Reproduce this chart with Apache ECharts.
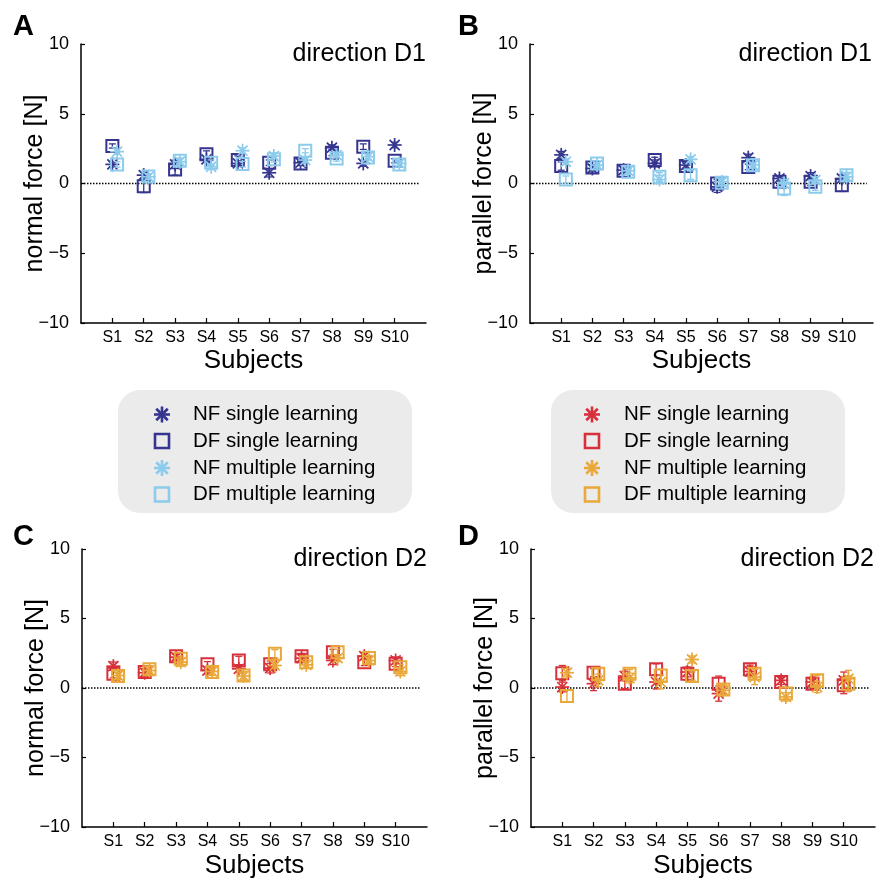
<!DOCTYPE html>
<html>
<head>
<meta charset="utf-8">
<script src="https://cdn.jsdelivr.net/npm/echarts@6/dist/echarts.min.js"></script>
<style>
  html, body { margin: 0; background: #fff; }
  #chart { width: 890px; height: 880px; }
</style>
</head>
<body>
<div id="chart"></div>
<script>
var FONT = 'Liberation Sans, Arial, sans-serif';
var subjects = ['S1', 'S2', 'S3', 'S4', 'S5', 'S6', 'S7', 'S8', 'S9', 'S10'];
var zeroLine = [[0, 0], [10.8, 0]];

// A: normal force, direction D1
var aNfSingle      = [1.37, 0.60, 1.37, 1.73, 1.44, 0.77, 1.49, 2.57, 1.44, 2.76];
var aNfSingleErr   = [0.20, 0.20, 0.30, 0.20, 0.20, 0.30, 0.20, 0.20, 0.20, 0.20];
var aDfSingle      = [2.69, -0.20, 1.00, 2.09, 1.68, 1.49, 1.44, 2.20, 2.64, 1.63];
var aDfSingleErr   = [0.15, 0.45, 0.40, 0.25, 0.30, 0.20, 0.15, 0.20, 0.20, 0.15];
var aNfMultiple    = [2.28, 0.48, 1.56, 1.20, 2.35, 1.97, 1.68, 2.04, 1.92, 1.44];
var aNfMultipleErr = [0.20, 0.20, 0.20, 0.20, 0.20, 0.20, 0.20, 0.20, 0.20, 0.20];
var aDfMultiple    = [1.37, 0.50, 1.63, 1.49, 1.39, 1.73, 2.35, 1.80, 1.87, 1.37];
var aDfMultipleErr = [0.20, 0.20, 0.20, 0.20, 0.20, 0.20, 0.15, 0.20, 0.20, 0.20];

// B: parallel force, direction D1
var bNfSingle      = [2.05, 1.08, 0.96, 1.44, 1.32, -0.24, 1.85, 0.36, 0.53, 0.36];
var bNfSingleErr   = [0.25, 0.25, 0.20, 0.25, 0.25, 0.40, 0.25, 0.20, 0.25, 0.25];
var bDfSingle      = [1.25, 1.15, 0.91, 1.68, 1.25, 0.00, 1.19, 0.12, 0.12, -0.12];
var bDfSingleErr   = [0.30, 0.20, 0.20, 0.20, 0.20, 0.30, 0.20, 0.25, 0.25, 0.45];
var bNfMultiple    = [1.56, 1.32, 0.91, 0.29, 1.73, 0.12, 1.32, 0.00, 0.24, 0.48];
var bNfMultipleErr = [0.20, 0.20, 0.20, 0.30, 0.20, 0.25, 0.20, 0.30, 0.25, 0.20];
var bDfMultiple    = [0.29, 1.44, 0.84, 0.48, 0.60, 0.05, 1.30, -0.36, -0.24, 0.60];
var bDfMultipleErr = [0.25, 0.20, 0.20, 0.30, 0.30, 0.25, 0.20, 0.50, 0.25, 0.20];

// C: normal force, direction D2
var cNfSingle      = [1.57, 1.10, 2.22, 1.26, 1.38, 1.43, 2.15, 1.98, 2.29, 1.98];
var cNfSingleErr   = [0.30, 0.30, 0.20, 0.25, 0.25, 0.35, 0.25, 0.30, 0.25, 0.25];
var cDfSingle      = [1.03, 1.15, 2.29, 1.70, 1.98, 1.70, 2.29, 2.58, 1.86, 1.74];
var cDfSingleErr   = [0.30, 0.25, 0.20, 0.20, 0.30, 0.25, 0.20, 0.20, 0.25, 0.20];
var cNfMultiple    = [0.90, 1.26, 1.86, 1.19, 0.86, 1.62, 1.67, 2.15, 1.98, 1.19];
var cNfMultipleErr = [0.25, 0.30, 0.30, 0.25, 0.30, 0.20, 0.25, 0.25, 0.25, 0.30];
var cDfMultiple    = [0.86, 1.34, 2.10, 1.15, 0.90, 2.46, 1.86, 2.58, 2.15, 1.50];
var cDfMultipleErr = [0.25, 0.25, 0.20, 0.25, 0.25, 0.30, 0.20, 0.20, 0.20, 0.20];

// D: parallel force, direction D2
var dNfSingle      = [0.07, 0.31, 0.86, 0.43, 1.15, -0.40, 1.19, 0.55, 0.43, 0.55];
var dNfSingleErr   = [0.35, 0.50, 0.35, 0.50, 0.35, 0.55, 0.35, 0.30, 0.35, 0.60];
var dDfSingle      = [1.07, 1.10, 0.31, 1.34, 1.03, 0.31, 1.34, 0.43, 0.31, 0.19];
var dDfSingleErr   = [0.55, 0.30, 0.35, 0.40, 0.45, 0.55, 0.30, 0.35, 0.30, 0.60];
var dNfMultiple    = [1.10, 0.55, 0.72, 0.43, 2.05, -0.17, 0.79, -0.64, 0.07, 0.67];
var dNfMultipleErr = [0.30, 0.45, 0.35, 0.50, 0.25, 0.35, 0.55, 0.30, 0.40, 0.60];
var dDfMultiple    = [-0.57, 1.03, 1.03, 0.90, 0.86, -0.10, 1.03, -0.40, 0.55, 0.31];
var dDfMultipleErr = [0.45, 0.35, 0.30, 0.45, 0.30, 0.35, 0.40, 0.45, 0.35, 0.55];

var legendNames = ['NF single learning', 'DF single learning', 'NF multiple learning', 'DF multiple learning'];
var blueColors = ['#35358f', '#35358f', '#8ccbeb', '#8ccbeb'];
var redColors = ['#d7303a', '#d7303a', '#e9a83a', '#e9a83a'];
var shapes = ['star', 'square', 'star', 'square'];
var offsets = [0, 0, 0.15, 0.15];

var panels = [
  { vals: [aNfSingle, aDfSingle, aNfMultiple, aDfMultiple], errs: [aNfSingleErr, aDfSingleErr, aNfMultipleErr, aDfMultipleErr], colors: blueColors, yName: 'normal force [N]' },
  { vals: [bNfSingle, bDfSingle, bNfMultiple, bDfMultiple], errs: [bNfSingleErr, bDfSingleErr, bNfMultipleErr, bDfMultipleErr], colors: blueColors, yName: 'parallel force [N]' },
  { vals: [cNfSingle, cDfSingle, cNfMultiple, cDfMultiple], errs: [cNfSingleErr, cDfSingleErr, cNfMultipleErr, cDfMultipleErr], colors: redColors, yName: 'normal force [N]' },
  { vals: [dNfSingle, dDfSingle, dNfMultiple, dDfMultiple], errs: [dNfSingleErr, dDfSingleErr, dNfMultipleErr, dDfMultipleErr], colors: redColors, yName: 'parallel force [N]' }
];

function starLines(cx, cy, r, color, w) {
  var d = r * 0.72;
  var st = { stroke: color, lineWidth: w };
  return [
    { type: 'line', shape: { x1: cx - r, y1: cy, x2: cx + r, y2: cy }, style: st },
    { type: 'line', shape: { x1: cx, y1: cy - r, x2: cx, y2: cy + r }, style: st },
    { type: 'line', shape: { x1: cx - d, y1: cy - d, x2: cx + d, y2: cy + d }, style: st },
    { type: 'line', shape: { x1: cx - d, y1: cy + d, x2: cx + d, y2: cy - d }, style: st }
  ];
}

function renderMark(shape, color) {
  return function (params, api) {
    var x = api.value(0), y = api.value(1), e = api.value(2);
    var c = api.coord([x, y]);
    var t = api.coord([x, y + e]);
    var b = api.coord([x, y - e]);
    var st = { stroke: color, lineWidth: 1.3 };
    var kids = [
      { type: 'line', shape: { x1: c[0], y1: t[1], x2: c[0], y2: b[1] }, style: st },
      { type: 'line', shape: { x1: c[0] - 3.5, y1: t[1], x2: c[0] + 3.5, y2: t[1] }, style: st },
      { type: 'line', shape: { x1: c[0] - 3.5, y1: b[1], x2: c[0] + 3.5, y2: b[1] }, style: st }
    ];
    if (shape === 'square') {
      kids.push({ type: 'rect', shape: { x: c[0] - 6, y: c[1] - 6, width: 12, height: 12 },
        style: { stroke: color, lineWidth: 2, fill: 'none' } });
    } else {
      kids = kids.concat(starLines(c[0], c[1], 7, color, 1.7));
    }
    return { type: 'group', children: kids };
  };
}

var grids = [
  { left: 81, top: 44, width: 345, height: 279 },
  { left: 530, top: 44, width: 343, height: 279 },
  { left: 82, top: 549, width: 345, height: 280 },
  { left: 531, top: 549, width: 344, height: 280 }
];

var xAxes = [], yAxes = [], series = [];
panels.forEach(function (p, gi) {
  xAxes.push({
    type: 'value', gridIndex: gi, min: 0, max: 11, interval: 1,
    name: 'Subjects', nameLocation: 'middle', nameGap: gi < 2 ? 25 : 26, nameMoveOverlap: false,
    nameTextStyle: { fontSize: 26, color: '#000', fontFamily: FONT },
    axisLine: { onZero: false, lineStyle: { color: '#000', width: 1.5 } },
    axisTick: { inside: true, length: 5, customValues: [1, 2, 3, 4, 5, 6, 7, 8, 9, 10], lineStyle: { color: '#000', width: 1.2 } },
    axisLabel: { customValues: [1, 2, 3, 4, 5, 6, 7, 8, 9, 10], margin: 7, fontSize: 16, color: '#000', fontFamily: FONT,
      formatter: function (v) { return subjects[v - 1] || ''; } },
    splitLine: { show: false }
  });
  yAxes.push({
    type: 'value', gridIndex: gi, min: -10, max: 10, interval: 5,
    name: p.yName, nameLocation: 'middle', nameGap: 33, nameRotate: 90, nameMoveOverlap: false,
    nameTextStyle: { fontSize: 25, color: '#000', fontFamily: FONT },
    axisLine: { onZero: false, lineStyle: { color: '#000', width: 1.5 } },
    axisTick: { inside: true, length: 4, lineStyle: { color: '#000', width: 1.2 } },
    axisLabel: { margin: 12, fontSize: 18, color: '#000', fontFamily: FONT,
      formatter: function (v) { return v < 0 ? '\u2212' + (-v) : String(v); } },
    splitLine: { show: false }
  });
  // dotted reference line at zero
  series.push({
    type: 'line', xAxisIndex: gi, yAxisIndex: gi, data: zeroLine, symbol: 'none', silent: true, z: 1,
    lineStyle: { type: [1.5, 1.5], color: '#000', width: 1.5 }
  });
  p.vals.forEach(function (arr, k) {
    var data = arr.map(function (v, i) { return [i + 1 + offsets[k], v, p.errs[k][i]]; });
    series.push({
      type: 'custom', name: legendNames[k], xAxisIndex: gi, yAxisIndex: gi,
      renderItem: renderMark(shapes[k], p.colors[k]),
      encode: { x: 0, y: 1 }, data: data, silent: true, z: 3
    });
  });
});

function panelTitle(text, left, top) {
  return { text: text, left: left, top: top, padding: 0,
    textStyle: { fontSize: 29, fontWeight: 'bold', color: '#000', fontFamily: FONT } };
}
function dirTitle(text, right, top) {
  return { text: text, right: right, top: top, padding: 0,
    textStyle: { fontSize: 25, fontWeight: 'normal', color: '#000', fontFamily: FONT } };
}

function legendBox(x, y, markerX, textX, colors) {
  var kids = [{ type: 'rect', shape: { x: x, y: y, width: 294, height: 123, r: 22 }, style: { fill: '#ebebeb' } }];
  var rows = [414.5, 441, 468, 494.5];
  rows.forEach(function (ry, k) {
    if (shapes[k] === 'square') {
      kids.push({ type: 'rect', shape: { x: markerX - 7, y: ry - 7, width: 14, height: 14 },
        style: { stroke: colors[k], lineWidth: 2.6, fill: 'none' } });
    } else {
      starLines(markerX, ry, 8, colors[k], 2.6).forEach(function (l) { kids.push(l); });
    }
    kids.push({ type: 'text', x: textX, y: ry, style: { text: legendNames[k], fontSize: 20.5, fontFamily: FONT, fill: '#000', verticalAlign: 'middle', align: 'left' } });
  });
  return { type: 'group', children: kids };
}

var chart = echarts.init(document.getElementById('chart'));
chart.setOption({
  backgroundColor: '#fff',
  animation: false,
  title: [
    panelTitle('A', 13, 12), panelTitle('B', 458, 12), panelTitle('C', 13, 522), panelTitle('D', 458, 522),
    dirTitle('direction D1', 464, 42), dirTitle('direction D1', 18, 42),
    dirTitle('direction D2', 463, 547), dirTitle('direction D2', 16, 547)
  ],
  grid: grids,
  xAxis: xAxes,
  yAxis: yAxes,
  series: series,
  graphic: [
    legendBox(118, 390, 162, 193, blueColors),
    legendBox(551, 390, 592, 624, redColors)
  ]
});
</script>
</body>
</html>
